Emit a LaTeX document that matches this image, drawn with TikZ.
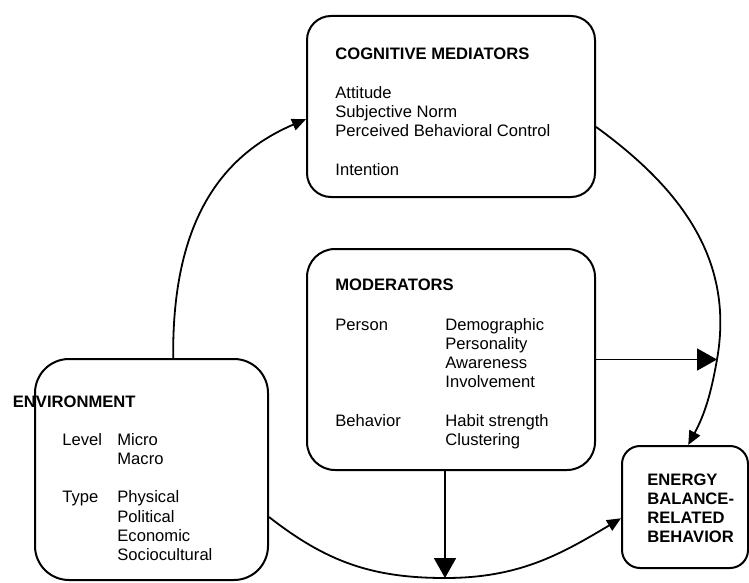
\documentclass[tikz,border=0pt]{standalone}
\usepackage{fontspec}
\setmainfont{Liberation Sans}
\usetikzlibrary{arrows.meta}

\begin{document}
\begin{tikzpicture}[x=0.5pt,y=-0.5pt]
        \tikzstyle{box}=[draw,line width=1pt,inner sep=0pt]
        \tikzstyle{txt}=[anchor=base west,inner sep=0pt,font=\fontsize{8.3}{9.65}\selectfont]
        \tikzstyle{arr}=[line width=0.9pt,-{Triangle[length=7pt,width=6pt]}]
        \tikzstyle{bigarr}=[line width=0.9pt,-{Triangle[length=10pt,width=11pt]}]
            \useasboundingbox (0,0) rectangle (749,583);

            \node[box,rounded corners=12pt,minimum width=144pt,minimum height=90.5pt] (cog) at (451,106.5) {};
            \node[box,rounded corners=14pt,minimum width=144pt,minimum height=110.5pt] (mod) at (451,359.5) {};
            \node[box,rounded corners=17pt,minimum width=116.5pt,minimum height=110.5pt] (env) at (151.5,469.5) {};
            \node[box,rounded corners=9pt,minimum width=63pt,minimum height=61pt] (eb) at (685,507) {};

            \node[txt,font=\fontsize{8.3}{9.65}\selectfont\bfseries] (cogh) at (335,60) {COGNITIVE MEDIATORS};
            \node[txt] (cogt) at (335,98) {\begin{tabular}[t]{@{}l@{}}
                Attitude\\ Subjective Norm\\ Perceived Behavioral Control\\[9.65pt] Intention
            \end{tabular}};

            \node[txt,font=\fontsize{8.3}{9.65}\selectfont\bfseries] (modh) at (335,290) {MODERATORS};
            \node[txt] (modt) at (335,330) {\begin{tabular}[t]{@{}p{55pt}@{}l@{}}
                Person & Demographic\\ & Personality\\ & Awareness\\ & Involvement\\[9.65pt]
                Behavior & Habit strength\\ & Clustering
            \end{tabular}};

            \node[txt,font=\fontsize{8.3}{9.65}\selectfont\bfseries] (envh) at (12.5,407) {ENVIRONMENT};
            \node[txt] (envt) at (62,445) {\begin{tabular}[t]{@{}p{27.5pt}@{}l@{}}
                Level & Micro\\ & Macro\\[9.65pt]
                Type & Physical\\ & Political\\ & Economic\\ & Sociocultural
            \end{tabular}};

            \node[txt,font=\fontsize{8.3}{9.65}\selectfont\bfseries] (ebt) at (647,485) {\begin{tabular}[t]{@{}l@{}}
                ENERGY\\ BALANCE-\\ RELATED\\ BEHAVIOR
            \end{tabular}};

            \coordinate (mj) at (717,359.5);
            \coordinate (bj) at (445,578);

            \draw[arr] (env.79.5) .. controls (172,230) and (215,158) .. (cog.185);
            \draw[arr] (cog.-8) to[out=-36,in=80] (mj) to[out=-100,in=62] (eb.87);
            \draw[arr] (env.-22) to[out=-38,in=180] (bj) to[out=0,in=-149] (eb.190);
            \draw[bigarr] (mod.east) -- (mj);
            \draw[bigarr] (mod.south -| bj) -- (bj);
        \end{tikzpicture}
\end{document}
